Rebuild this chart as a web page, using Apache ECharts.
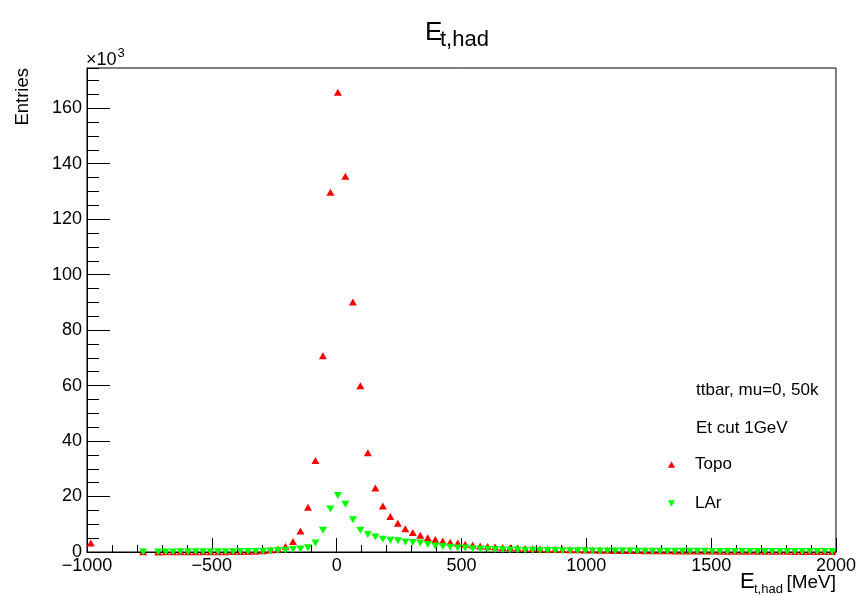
<!DOCTYPE html>
<html>
<head>
<meta charset="utf-8">
<title>E_t,had</title>
<script src="https://cdn.jsdelivr.net/npm/echarts@6/dist/echarts.min.js"></script>
<style>
  html, body { margin: 0; padding: 0; background: #fff; }
  #chart { width: 859px; height: 597px; }
</style>
</head>
<body>
<div id="chart"></div>
<script>
// Histogram binning: 100 bins of 30 MeV from -1000 to 2000 MeV
const BIN_LOW = -1000;
const BIN_WIDTH = 30;
const N_BINS = 100;

// Bin contents in units of 10^3 entries (null = empty bin, not drawn)
const topo = [
  3.2, null, null, null, null, null, null, 0.05, null,
  0.04, 0.05, 0.05, 0.06, 0.06, 0.07, 0.08, 0.09, 0.1, 0.12, 0.14,
  0.17, 0.22, 0.3, 0.45, 0.7, 1.1, 2.0, 3.8, 7.6, 16.1,
  33.0, 70.8, 129.7, 165.8, 135.5, 90.1, 59.9, 35.8, 23.1, 16.6,
  12.8, 10.4, 8.4, 7.0, 6.0, 5.15, 4.5, 4.0, 3.5, 3.2,
  2.8, 2.5,
  2.2, 2.0, 1.8, 1.65, 1.5, 1.4, 1.3, 1.2,
  1.1, 1.0, 0.95, 0.9, 0.85, 0.8, 0.75, 0.7,
  0.65, 0.6, 0.58, 0.55, 0.52, 0.5, 0.48, 0.45,
  0.43, 0.41, 0.4, 0.38, 0.36, 0.35, 0.33, 0.32,
  0.31, 0.3, 0.29, 0.28, 0.27, 0.26, 0.25, 0.25,
  0.24, 0.23, 0.22, 0.22, 0.21, 0.2, 0.2, 0.19
];
const lar = [
  null, null, null, null, null, null, null, 0.04, null,
  0.03, 0.04, 0.04, 0.05, 0.05, 0.06, 0.07, 0.08, 0.09, 0.1, 0.12,
  0.14, 0.17, 0.2, 0.25, 0.35, 0.5, 0.65, 0.9, 1.1, 1.5,
  3.25, 7.8, 15.5, 20.4, 17.2, 11.6, 7.8, 6.3, 5.4, 4.6,
  4.2, 4.1, 3.6, 3.4, 3.25, 2.7, 2.2, 2.0, 1.7, 1.45,
  1.4, 1.2,
  1.1, 0.95, 0.9, 0.8, 0.75, 0.7, 0.65, 0.6,
  0.55, 0.52, 0.5, 0.47, 0.45, 0.43, 0.41, 0.4,
  0.38, 0.36, 0.35, 0.33, 0.32, 0.31, 0.3, 0.29,
  0.28, 0.27, 0.26, 0.25, 0.24, 0.24, 0.23, 0.22,
  0.22, 0.21, 0.2, 0.2, 0.19, 0.19, 0.18, 0.18,
  0.17, 0.17, 0.16, 0.16, 0.15, 0.15, 0.15, 0.14
];

const seriesNames = ['Topo', 'LAr'];
const infoLines = ['ttbar, mu=0, 50k', 'Et cut 1GeV'];

// Axis ranges (x in MeV, y in 10^3 entries)
const X_MIN = -1000, X_MAX = 2000, X_STEP = 500;
const Y_MIN = 0, Y_MAX = 174.5, Y_STEP = 20, Y_MINOR = 5;

const FONT = "'Liberation Sans', Arial, Helvetica, sans-serif";
const UP_TRIANGLE = 'path://M5,0 L10,9 L0,9 Z';
const DOWN_TRIANGLE = 'path://M0,0 L10,0 L5,9 Z';

function binCenter(k) { return BIN_LOW + BIN_WIDTH * (k + 0.5); }
function toPoints(values) {
  const pts = [];
  values.forEach(function (v, k) { if (v !== null) pts.push([binCenter(k), v]); });
  return pts;
}

const chart = echarts.init(document.getElementById('chart'), null, { renderer: 'canvas' });

const axisBlack = { color: '#000', width: 1 };

chart.setOption({
  animation: false,
  backgroundColor: '#fff',
  grid: {
    left: 87, right: 22, top: 68, bottom: 45,
    show: true, borderColor: '#000', borderWidth: 1, backgroundColor: 'transparent'
  },
  xAxis: [{
    type: 'value', min: X_MIN, max: X_MAX, interval: X_STEP,
    axisLine: { show: true, onZero: false, lineStyle: axisBlack },
    axisTick: { show: true, inside: true, length: 14, lineStyle: axisBlack },
    minorTick: { show: true, splitNumber: 5, length: 7, lineStyle: axisBlack },
    splitLine: { show: false },
    minorSplitLine: { show: false },
    axisLabel: {
      color: '#000', fontSize: 18, fontFamily: FONT, margin: 5,
      formatter: function (v) { return v < 0 ? '\u2212' + Math.abs(v) : String(v); }
    }
  }],
  yAxis: [{
    type: 'value', min: Y_MIN, max: Y_MAX, interval: Y_STEP,
    axisLine: { show: true, onZero: false, lineStyle: axisBlack },
    axisTick: { show: true, inside: true, length: 23, lineStyle: axisBlack },
    splitLine: { show: false },
    axisLabel: {
      color: '#000', fontSize: 18, fontFamily: FONT, margin: 5,
      showMaxLabel: false
    }
  }, {
    // minor ticks every 5k
    type: 'value', min: Y_MIN, max: Y_MAX, interval: Y_MINOR, position: 'left',
    axisLine: { show: false, onZero: false },
    axisTick: { show: true, inside: true, length: 12, lineStyle: axisBlack },
    splitLine: { show: false },
    axisLabel: { show: false }
  }],
  legend: {
    left: 668, top: 456, orient: 'vertical', padding: 0,
    itemWidth: 7, itemHeight: 7, itemGap: 22,
    data: [
      { name: seriesNames[0], icon: UP_TRIANGLE },
      { name: seriesNames[1], icon: DOWN_TRIANGLE }
    ],
    textStyle: { color: '#000', fontSize: 17, fontFamily: FONT, padding: [0, 0, 0, 15] }
  },
  series: [{
    name: seriesNames[0], type: 'scatter',
    symbol: UP_TRIANGLE, symbolSize: [8, 7],
    itemStyle: { color: '#ff0000', opacity: 1 },
    data: toPoints(topo), z: 3
  }, {
    name: seriesNames[1], type: 'scatter',
    symbol: DOWN_TRIANGLE, symbolSize: [8, 7],
    itemStyle: { color: '#00ff00', opacity: 1 },
    data: toPoints(lar), z: 4
  }],
  graphic: [
    // Title E_{t,had}
    { type: 'text', x: 425, y: 33, style: { text: 'E', font: '26px ' + FONT, fill: '#000', textAlign: 'left', textVerticalAlign: 'middle' } },
    { type: 'text', x: 440, y: 39.5, style: { text: 't,had', font: '22px ' + FONT, fill: '#000', textAlign: 'left', textVerticalAlign: 'middle' } },
    // Exponent marker above the y axis
    { type: 'text', x: 86, y: 60, style: { text: '\u00d710', font: '18px ' + FONT, fill: '#000', textAlign: 'left', textVerticalAlign: 'middle' } },
    { type: 'text', x: 117.5, y: 53.5, style: { text: '3', font: '13px ' + FONT, fill: '#000', textAlign: 'left', textVerticalAlign: 'middle' } },
    // Y axis title
    { type: 'text', x: 23, y: 68, rotation: Math.PI / 2, style: { text: 'Entries', font: '18.5px ' + FONT, fill: '#000', textAlign: 'right', textVerticalAlign: 'middle' } },
    // X axis title E_{t,had} [MeV]
    { type: 'text', x: 740, y: 582, style: { text: 'E', font: '22px ' + FONT, fill: '#000', textAlign: 'left', textVerticalAlign: 'middle' } },
    { type: 'text', x: 754, y: 589, style: { text: 't,had', font: '13px ' + FONT, fill: '#000', textAlign: 'left', textVerticalAlign: 'middle' } },
    { type: 'text', x: 836, y: 583, style: { text: '[MeV]', font: '19px ' + FONT, fill: '#000', textAlign: 'right', textVerticalAlign: 'middle' } },
    // Info lines in the legend box
    { type: 'text', x: 696, y: 390, style: { text: infoLines[0], font: '17px ' + FONT, fill: '#000', textAlign: 'left', textVerticalAlign: 'middle' } },
    { type: 'text', x: 696, y: 428, style: { text: infoLines[1], font: '17px ' + FONT, fill: '#000', textAlign: 'left', textVerticalAlign: 'middle' } }
  ]
});
</script>
</body>
</html>
